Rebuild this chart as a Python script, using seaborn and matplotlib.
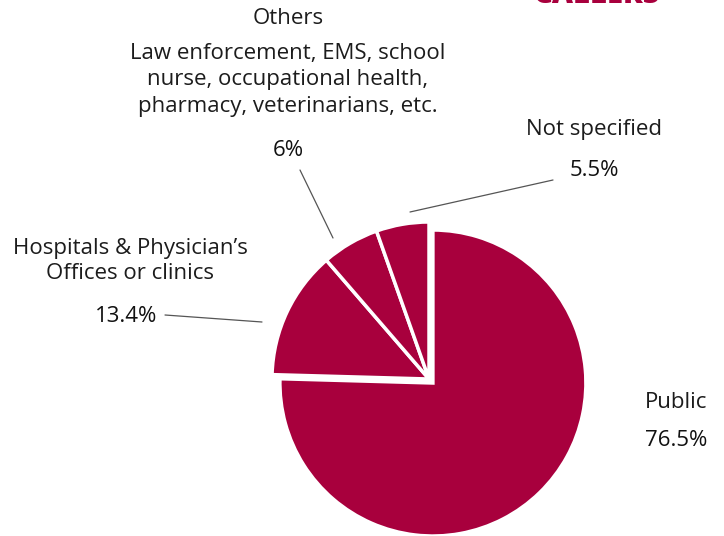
import matplotlib
matplotlib.use("Agg")
import matplotlib.pyplot as plt
import seaborn as sns

# ---- data ----
categories = ["Public", "Hospitals & Physician\u2019s\nOffices or clinics", "Others", "Not specified"]
values = [76.5, 13.4, 6.0, 5.5]
pct_labels = ["76.5%", "13.4%", "6%", "5.5%"]
others_desc = "Law enforcement, EMS, school\nnurse, occupational health,\npharmacy, veterinarians, etc."

sns.set_theme(style="white")
plt.rcParams["font.family"] = ["Open Sans", "DejaVu Sans"]

W, H = 724, 536
fig = plt.figure(figsize=(W / 100, H / 100), dpi=100)
ax = fig.add_axes([0, 0, 1, 1])

def Y(y):
    return H - y

color = "#A8003D"
common = dict(colors=[color] * len(values), startangle=90, counterclock=False,
              center=(429, Y(379)), wedgeprops=dict(edgecolor="white", linewidth=2.5))
# Public wedge (slightly pulled out)
w1, _ = ax.pie(values, radius=153, explode=[5.6, 0, 0, 0], **common)
for w in w1[1:]:
    w.set_visible(False)
# the smaller wedges
w2, _ = ax.pie(values, radius=157, **common)
w2[0].set_visible(False)

ax.set_xlim(0, W)
ax.set_ylim(0, H)
ax.set_aspect("equal")
ax.axis("off")

txt = "#1c1c1c"
pct_c = "#111111"
fs = 16
# Public
ax.text(676, Y(403), categories[0], ha="center", va="center", fontsize=fs, color=txt)
ax.text(676, Y(440), pct_labels[0], ha="center", va="center", fontsize=fs, color=pct_c)
# Hospitals
ax.text(130, Y(261), categories[1], ha="center", va="center", fontsize=fs, color=txt, linespacing=1.26)
ax.text(126, Y(317), pct_labels[1], ha="center", va="center", fontsize=fs, color=pct_c)
# Others
ax.text(288, Y(18), categories[2], ha="center", va="center", fontsize=fs, color=txt)
ax.text(288, Y(80), others_desc, ha="center", va="center", fontsize=fs, color=txt, linespacing=1.35)
ax.text(288, Y(150), pct_labels[2], ha="center", va="center", fontsize=fs, color=pct_c)
# Not specified
ax.text(594, Y(130), categories[3], ha="center", va="center", fontsize=fs, color=txt)
ax.text(594, Y(170), pct_labels[3], ha="center", va="center", fontsize=fs, color=pct_c)

# leader lines
line_kw = dict(arrowprops=dict(arrowstyle="-", color="#555555", lw=0.9, shrinkA=0, shrinkB=0))
ax.annotate("", xy=(333, Y(238)), xytext=(300, Y(170)), **line_kw)
ax.annotate("", xy=(410, Y(212)), xytext=(553, Y(180)), **line_kw)
ax.annotate("", xy=(262, Y(322)), xytext=(165, Y(315)), **line_kw)

# header, cut off at the top edge as in the reference
ax.text(597, Y(3), "CALLERS", ha="center", va="baseline", fontsize=21, color=color, fontweight="heavy",
        clip_on=False)

fig.savefig("out.png", dpi=100)
